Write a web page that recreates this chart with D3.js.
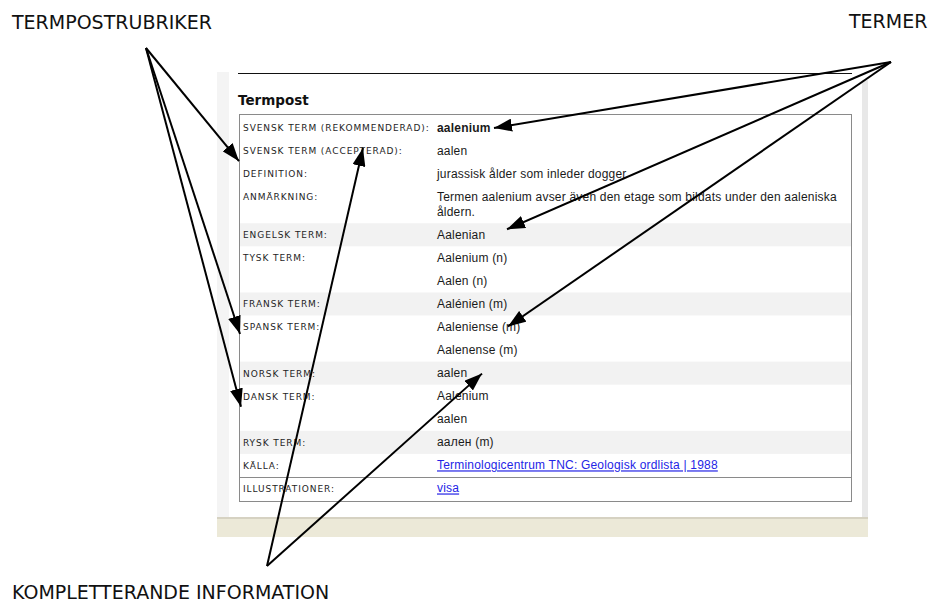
<!DOCTYPE html>
<html><head><meta charset="utf-8">
<script src="https://cdn.jsdelivr.net/npm/d3@7"></script>
<style>body{margin:0;background:#fff}svg{display:block}</style>
</head><body>
<svg id="c" width="928" height="604"></svg>
<script>
// ---- data ----
const title = "Termpost";
const rowLabels = ["SVENSK TERM (REKOMMENDERAD):", "SVENSK TERM (ACCEPTERAD):", "DEFINITION:", "ANMÄRKNING:",
  "ENGELSK TERM:", "TYSK TERM:", "", "FRANSK TERM:", "SPANSK TERM:", "", "NORSK TERM:", "DANSK TERM:", "",
  "RYSK TERM:", "KÄLLA:", "ILLUSTRATIONER:"];
const rowValues = [["aalenium"], ["aalen"], ["jurassisk ålder som inleder dogger"],
  ["Termen aalenium avser även den etage som bildats under den aaleniska", "åldern."],
  ["Aalenian"], ["Aalenium (n)"], ["Aalen (n)"], ["Aalénien (m)"], ["Aaleniense (m)"], ["Aalenense (m)"],
  ["aalen"], ["Aalenium"], ["aalen"], ["аален (m)"],
  ["Terminologicentrum TNC: Geologisk ordlista | 1988"], ["visa"]];
const shadedRows = [4, 7, 10, 13];
const boldRows = [0];
const linkRows = [14, 15];
const separatorRow = 15;

const annotLabels = ["TERMPOSTRUBRIKER", "TERMER", "KOMPLETTERANDE INFORMATION"];
// arrow targets: [row index, x at tip, offset within row]
const annotTargets = [
  [[2, 239, -1], [8, 240, 18.5], [11, 241, 22]],
  [[0, 494, 12], [4, 507, 6], [8, 508, 11]],
  [[1, 363, 9], [10, 482, 12]]
];

// ---- layout ----
const svg = d3.select("#c");
const panel = {x0: 217, x1: 868, top: 72, bottom: 517, beige: 537};
const table = {x0: 239, x1: 851, top: 114, bottom: 501, rowTop: 116, rowBottom: 500};
const labelX = 243, valueX = 437;

// row positions via a linear scale over line units
const extraLine = 0.65;
const units = rowValues.map(v => 1 + (v.length - 1) * extraLine);
const cum = [0]; units.forEach(u => cum.push(cum[cum.length - 1] + u));
const y = d3.scaleLinear().domain([0, cum[cum.length - 1]]).range([table.rowTop, table.rowBottom]);
const lineStep = y(extraLine) - y(0);

// background screenshot frame
svg.append("rect").attr("x", panel.x0).attr("y", panel.top).attr("width", 12).attr("height", panel.bottom - panel.top).attr("fill", "#f4f4f4");
svg.append("rect").attr("x", 862).attr("y", 80).attr("width", 6).attr("height", panel.bottom - 80).attr("fill", "#e8e8e8");
svg.append("rect").attr("x", panel.x0).attr("y", panel.bottom).attr("width", panel.x1 - panel.x0).attr("height", panel.beige - panel.bottom).attr("fill", "#ece9d8");
svg.append("rect").attr("x", panel.x0).attr("y", panel.bottom).attr("width", panel.x1 - panel.x0).attr("height", 2).attr("fill", "#d6d2c2");

// top rule
svg.append("line").attr("x1", 238).attr("x2", 852).attr("y1", 73.5).attr("y2", 73.5).attr("stroke", "#111").attr("stroke-width", 1);

svg.append("text").attr("x", 238).attr("y", 105).text(title)
  .attr("font-family", "DejaVu Sans").attr("font-weight", "bold").attr("font-size", 13.5).attr("fill", "#111");

// shaded rows
svg.append("g").selectAll("rect").data(shadedRows).join("rect")
  .attr("x", table.x0 + 1).attr("width", table.x1 - table.x0 - 1)
  .attr("y", i => y(cum[i])).attr("height", i => y(cum[i + 1]) - y(cum[i]))
  .attr("fill", "#f2f2f2");

// table box
svg.append("rect").attr("x", table.x0 + 0.5).attr("y", table.top + 0.5)
  .attr("width", table.x1 - table.x0).attr("height", table.bottom - table.top)
  .attr("fill", "none").attr("stroke", "#8a8a8a");
svg.append("line").attr("x1", table.x0).attr("x2", table.x1)
  .attr("y1", Math.round(y(cum[separatorRow])) + 0.5).attr("y2", Math.round(y(cum[separatorRow])) + 0.5)
  .attr("stroke", "#8a8a8a");

// rows
const rows = svg.append("g").selectAll("g").data(rowLabels.map((l, i) => ({l, v: rowValues[i], i}))).join("g")
  .attr("transform", d => `translate(0,${y(cum[d.i]) + 11.5})`);
rows.append("text").attr("x", labelX).attr("y", 3.5).text(d => d.l)
  .attr("font-family", "DejaVu Sans").attr("font-size", 9).attr("letter-spacing", 0.92).attr("fill", "#1e1e1e");
rows.each(function(d) {
  const g = d3.select(this);
  d.v.forEach((t, k) => {
    const tx = g.append("text").attr("x", valueX).attr("y", 4 + k * lineStep).text(t)
      .attr("font-family", "Liberation Sans, Arial").attr("font-size", 12).attr("letter-spacing", 0.2)
      .attr("fill", linkRows.includes(d.i) ? "#2424e6" : "#1a1a1a")
      .attr("font-weight", boldRows.includes(d.i) ? "bold" : "normal");
    if (linkRows.includes(d.i)) tx.attr("text-decoration", "underline");
  });
});

// annotations
svg.append("defs").append("marker").attr("id", "ah")
  .attr("viewBox", "0 0 18 13").attr("refX", 18).attr("refY", 6.5)
  .attr("markerWidth", 18).attr("markerHeight", 13).attr("markerUnits", "userSpaceOnUse")
  .attr("orient", "auto")
  .append("path").attr("d", "M0,0 L18,6.5 L0,13 Z").attr("fill", "#000");

const annotPos = [{x: 12, y: 29, ox: 146, oy: 48}, {x: 849, y: 28, ox: 891, oy: 62}, {x: 12, y: 599, ox: 267, oy: 566}];
annotLabels.forEach((lab, a) => {
  const p = annotPos[a];
  svg.append("text").attr("x", p.x).attr("y", p.y).text(lab)
    .attr("font-family", "DejaVu Sans").attr("font-size", 19).attr("fill", "#111");
  svg.append("g").selectAll("line").data(annotTargets[a]).join("line")
    .attr("x1", p.ox).attr("y1", p.oy)
    .attr("x2", d => d[1]).attr("y2", d => y(cum[d[0]]) + d[2])
    .attr("stroke", "#000").attr("stroke-width", 2).attr("marker-end", "url(#ah)");
});
</script>
</body></html>
